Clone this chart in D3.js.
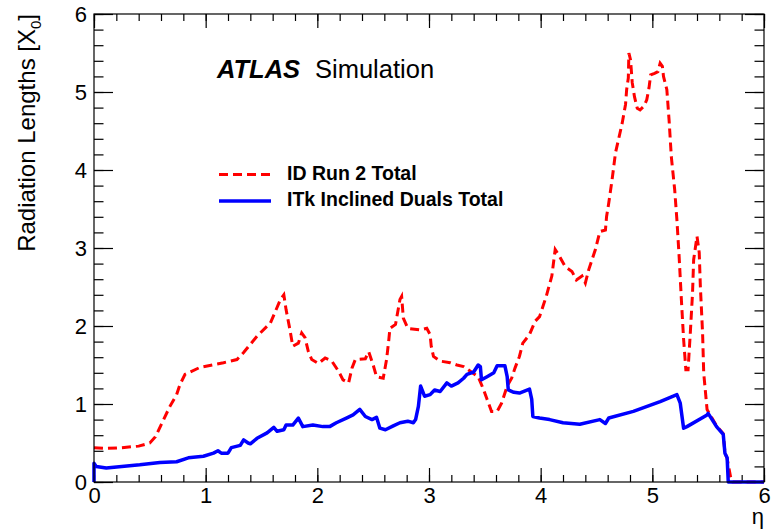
<!DOCTYPE html>
<html>
<head>
<meta charset="utf-8">
<script src="https://cdn.jsdelivr.net/npm/d3@7"></script>
<style>
    body { margin: 0; background: #fff; }
    text { font-family: "Liberation Sans", Arial, sans-serif; }
</style>
</head>
<body>
<div id="container"></div>
<script>

// chart values
var etaRun2 = [0.00, 0.10, 0.25, 0.40, 0.50, 0.55, 0.60, 0.68, 0.74, 0.77, 0.815, 0.95, 1.16, 1.28, 1.34,
    1.46, 1.58, 1.67, 1.70, 1.72, 1.755, 1.78, 1.83, 1.86, 1.89, 1.92, 1.95, 2.01, 2.07, 2.13, 2.19,
    2.23, 2.28, 2.31, 2.34, 2.43, 2.46, 2.50, 2.53, 2.59, 2.62, 2.64, 2.65, 2.70, 2.74, 2.755, 2.77,
    2.81, 2.92, 2.98, 3.01, 3.02, 3.04, 3.10, 3.19, 3.25, 3.31, 3.37, 3.44, 3.49, 3.52, 3.56, 3.61,
    3.65, 3.70, 3.74, 3.77, 3.81, 3.84, 3.90, 3.95, 3.99, 4.02, 4.05, 4.10, 4.13, 4.17, 4.22, 4.28,
    4.32, 4.37, 4.40, 4.43, 4.46, 4.49, 4.53, 4.58, 4.59, 4.61, 4.64, 4.67, 4.70, 4.73, 4.76, 4.77,
    4.785, 4.79, 4.805, 4.82, 4.84, 4.865, 4.89, 4.925, 4.95, 4.97, 4.985, 5.02, 5.05, 5.07, 5.09,
    5.10, 5.13, 5.15, 5.17, 5.20, 5.22, 5.24, 5.26, 5.28, 5.30, 5.32, 5.34, 5.36, 5.37, 5.40, 5.42,
    5.43, 5.45, 5.46, 5.49, 5.575, 5.635, 5.65, 5.67, 5.70, 5.72, 6.00];
var x0Run2 = [0.44, 0.43, 0.44, 0.46, 0.50, 0.58, 0.73, 0.97, 1.12, 1.25, 1.38, 1.47, 1.53, 1.57, 1.66,
    1.87, 2.04, 2.34, 2.40, 2.21, 1.95, 1.74, 1.78, 1.91, 1.85, 1.67, 1.57, 1.52, 1.59, 1.55, 1.42,
    1.31, 1.27, 1.46, 1.57, 1.58, 1.67, 1.50, 1.35, 1.33, 1.57, 1.82, 1.97, 2.02, 2.34, 2.38, 2.10,
    1.97, 1.95, 1.97, 1.89, 1.74, 1.61, 1.55, 1.53, 1.50, 1.48, 1.42, 1.35, 1.18, 1.06, 0.905, 0.905,
    1.01, 1.23, 1.33, 1.46, 1.61, 1.78, 1.89, 2.06, 2.12, 2.25, 2.38, 2.64, 2.98, 2.89, 2.76, 2.70,
    2.59, 2.64, 2.55, 2.72, 2.85, 2.98, 3.21, 3.23, 3.40, 3.58, 3.88, 4.22, 4.41, 4.60, 4.84, 5.03,
    5.18, 5.50, 5.41, 5.12, 4.94, 4.79, 4.77, 4.82, 4.90, 5.05, 5.22, 5.24, 5.26, 5.37, 5.33,
    5.20, 5.03, 4.64, 4.17, 3.75, 3.36, 2.89, 2.34, 1.83, 1.44, 1.44, 1.91, 2.42, 2.85, 3.15, 2.94,
    2.51, 1.91, 1.40, 0.93, 0.72, 0.62, 0.38, 0.30, 0.07, 0.00, 0.00];

var etaITk = [0.00, 0.00, 0.02, 0.11, 0.41, 0.59, 0.74, 0.845, 0.98, 1.07, 1.11, 1.14, 1.20, 1.23, 1.31,
    1.34, 1.38, 1.40, 1.46, 1.55, 1.61, 1.64, 1.70, 1.72, 1.78, 1.83, 1.87, 1.96, 2.05, 2.11, 2.17,
    2.26, 2.32, 2.38, 2.43, 2.49, 2.53, 2.56, 2.61, 2.68, 2.74, 2.81, 2.86, 2.88, 2.905, 2.925, 2.96,
    3.01, 3.05, 3.10, 3.16, 3.20, 3.26, 3.31, 3.34, 3.40, 3.44, 3.46, 3.47, 3.52, 3.58, 3.61, 3.68,
    3.70, 3.71, 3.76, 3.81, 3.90, 3.92, 3.93, 3.99, 4.08, 4.20, 4.35, 4.53, 4.58, 4.61, 4.83, 5.07,
    5.22, 5.25, 5.28, 5.31, 5.49, 5.50, 5.575, 5.635, 5.65, 5.67, 5.68, 6.00];
var x0ITk = [0.00, 0.24, 0.20, 0.18, 0.22, 0.25, 0.26, 0.31, 0.33, 0.37, 0.40, 0.37, 0.37, 0.44, 0.47,
    0.54, 0.50, 0.49, 0.56, 0.63, 0.70, 0.65, 0.67, 0.73, 0.73, 0.82, 0.71, 0.73, 0.71, 0.71, 0.76,
    0.82, 0.86, 0.93, 0.84, 0.80, 0.83, 0.69, 0.67, 0.72, 0.76, 0.78, 0.76, 0.80, 0.97, 1.23, 1.10,
    1.12, 1.18, 1.16, 1.27, 1.23, 1.27, 1.33, 1.38, 1.41, 1.50, 1.48, 1.31, 1.35, 1.40, 1.49, 1.49,
    1.35, 1.18, 1.15, 1.14, 1.19, 1.06, 0.84, 0.82, 0.80, 0.76, 0.74, 0.80, 0.75, 0.82, 0.905, 1.03,
    1.12, 1.01, 0.69, 0.71, 0.86, 0.88, 0.71, 0.61, 0.37, 0.31, 0.00, 0.00];

var seriesNames = ["ID Run 2 Total", "ITk Inclined Duals Total"];
var seriesColors = ["#ff0000", "#0000ff"];
var majorTicks = [0, 1, 2, 3, 4, 5, 6];

// canvas and plot frame
var canvasX = 776;
var canvasY = 531;
var margin = {left: 94, right: 12, top: 14, bottom: 49};
var plotW = canvasX - margin.left - margin.right;
var plotH = canvasY - margin.top - margin.bottom;

// make svg
var svg = d3.select("#container")
            .append("svg")
            .attr("width", canvasX)
            .attr("height", canvasY);

var plot = svg.append("g")
              .attr("transform", "translate(" + margin.left + "," + margin.top + ")");

// scales
var xScale = d3.scaleLinear().domain([0, 6]).range([0, plotW]);
var yScale = d3.scaleLinear().domain([0, 6]).range([plotH, 0]);

var minorTicks = d3.range(0, 30.5, 1).map(function(d) { return d / 5; });

// draw ticks on all four sides
function drawAxis(axis, transform, labels) {
    var g = plot.append("g")
                .attr("transform", transform)
                .call(axis);
    g.select(".domain").remove();
    g.selectAll("line").attr("stroke", "#000").attr("stroke-width", 1.2);
    if (labels) {
        g.selectAll("text")
         .attr("fill", "#000")
         .style("font-size", "22px");
    } else {
        g.selectAll("text").remove();
    }
}

// bottom
drawAxis(d3.axisBottom(xScale).tickValues(minorTicks).tickSize(-7), "translate(0," + plotH + ")", false);
drawAxis(d3.axisBottom(xScale).tickValues(majorTicks).tickSize(-14).tickPadding(5).tickFormat(d3.format("d")),
         "translate(0," + plotH + ")", true);
// top
drawAxis(d3.axisTop(xScale).tickValues(minorTicks).tickSize(-7), "translate(0,0)", false);
drawAxis(d3.axisTop(xScale).tickValues(majorTicks).tickSize(-14), "translate(0,0)", false);
// left
drawAxis(d3.axisLeft(yScale).tickValues(minorTicks).tickSize(-9.5), "translate(0,0)", false);
drawAxis(d3.axisLeft(yScale).tickValues(majorTicks).tickSize(-19).tickPadding(7).tickFormat(d3.format("d")),
         "translate(0,0)", true);
// right
drawAxis(d3.axisRight(yScale).tickValues(minorTicks).tickSize(-9.5), "translate(" + plotW + ",0)", false);
drawAxis(d3.axisRight(yScale).tickValues(majorTicks).tickSize(-19), "translate(" + plotW + ",0)", false);

// curves
var line = d3.line()
             .x(function(d) { return xScale(d[0]); })
             .y(function(d) { return yScale(d[1]); });

var run2 = d3.zip(etaRun2, x0Run2);
var itk = d3.zip(etaITk, x0ITk);

plot.append("path")
    .datum(run2)
    .attr("d", line)
    .attr("fill", "none")
    .attr("stroke", seriesColors[0])
    .attr("stroke-width", 3)
    .attr("stroke-dasharray", "9,5");

plot.append("path")
    .datum(itk)
    .attr("d", line)
    .attr("fill", "none")
    .attr("stroke", seriesColors[1])
    .attr("stroke-width", 3.5)
    .attr("stroke-linejoin", "round");

// frame
plot.append("rect")
    .attr("width", plotW)
    .attr("height", plotH)
    .attr("fill", "none")
    .attr("stroke", "#000")
    .attr("stroke-width", 1.2);

// axis titles
svg.append("text")
   .attr("transform", "rotate(-90)")
   .attr("x", -14)
   .attr("y", 35)
   .attr("text-anchor", "end")
   .style("font-size", "24px")
   .text("Radiation Lengths [X")
   .append("tspan")
   .attr("dy", 6)
   .style("font-size", "15px")
   .text("0")
   .select(function() { return this.parentNode; })
   .append("tspan")
   .attr("dy", -6)
   .text("]");

svg.append("text")
   .attr("x", 764)
   .attr("y", 524)
   .attr("text-anchor", "end")
   .style("font-size", "22px")
   .text("\u03b7");

// ATLAS label
svg.append("text")
   .attr("x", 217)
   .attr("y", 78)
   .style("font-size", "25.5px")
   .style("font-weight", "bold")
   .style("font-style", "italic")
   .text("ATLAS");

svg.append("text")
   .attr("x", 315)
   .attr("y", 78)
   .style("font-size", "25.5px")
   .text("Simulation");

// legend
var legend = svg.selectAll(".legend")
                .data(seriesNames)
                .enter()
                .append("g")
                .attr("class", "legend")
                .attr("transform", function(d, i) {
                    return "translate(219," + (174.5 + i * 26.5) + ")";
                });

legend.append("line")
      .attr("x1", 0)
      .attr("x2", 52)
      .attr("stroke", function(d, i) { return seriesColors[i]; })
      .attr("stroke-width", function(d, i) { return i == 0 ? 3 : 3.5; })
      .attr("stroke-dasharray", function(d, i) { return i == 0 ? "9,5" : null; });

legend.append("text")
      .attr("x", 68)
      .attr("y", 5)
      .style("font-size", "19.5px")
      .style("font-weight", "bold")
      .text(function(d) { return d; });

</script>
</body>
</html>
